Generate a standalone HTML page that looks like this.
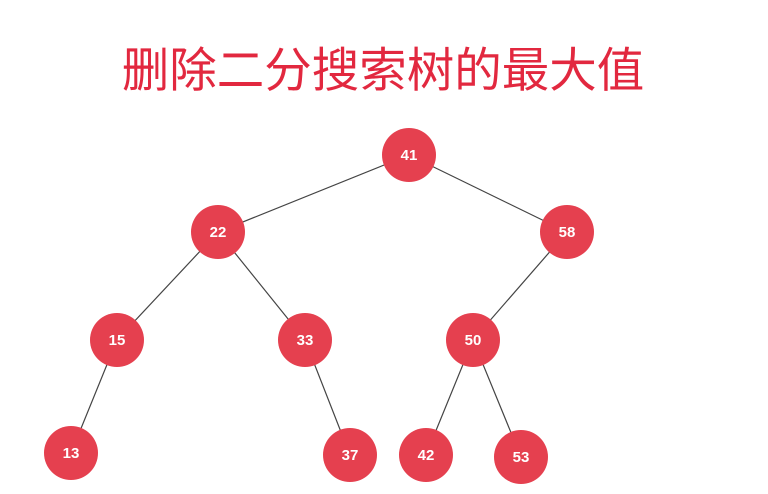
<!DOCTYPE html>
<html><head><meta charset="utf-8"><style>
html,body{margin:0;padding:0;background:#fff;width:768px;height:494px;overflow:hidden}
</style></head><body>
<svg width="768" height="494" xmlns="http://www.w3.org/2000/svg">
<text x="383" y="87" text-anchor="middle" font-family="'Liberation Sans','Noto Sans CJK SC',sans-serif" font-size="47.5" fill="#e2283f">删除二分搜索树的最大值</text>
<g stroke="#444" stroke-width="1.2">
<line x1="409" y1="155" x2="218" y2="232"/>
<line x1="409" y1="155" x2="567" y2="232"/>
<line x1="218" y1="232" x2="117" y2="340"/>
<line x1="218" y1="232" x2="305" y2="340"/>
<line x1="567" y1="232" x2="473" y2="340"/>
<line x1="117" y1="340" x2="71" y2="453"/>
<line x1="305" y1="340" x2="350" y2="455"/>
<line x1="473" y1="340" x2="426" y2="455"/>
<line x1="473" y1="340" x2="521" y2="457"/>
</g>
<g fill="#e5404f">
<circle cx="409" cy="155" r="27"/>
<circle cx="218" cy="232" r="27"/>
<circle cx="567" cy="232" r="27"/>
<circle cx="117" cy="340" r="27"/>
<circle cx="305" cy="340" r="27"/>
<circle cx="473" cy="340" r="27"/>
<circle cx="71" cy="453" r="27"/>
<circle cx="350" cy="455" r="27"/>
<circle cx="426" cy="455" r="27"/>
<circle cx="521" cy="457" r="27"/>
</g>
<g fill="#fff" font-family="'Liberation Sans',sans-serif" font-size="15" font-weight="bold" text-anchor="middle">
<text x="409" y="160">41</text>
<text x="218" y="237">22</text>
<text x="567" y="237">58</text>
<text x="117" y="345">15</text>
<text x="305" y="345">33</text>
<text x="473" y="345">50</text>
<text x="71" y="458">13</text>
<text x="350" y="460">37</text>
<text x="426" y="460">42</text>
<text x="521" y="462">53</text>
</g>
</svg>
</body></html>
